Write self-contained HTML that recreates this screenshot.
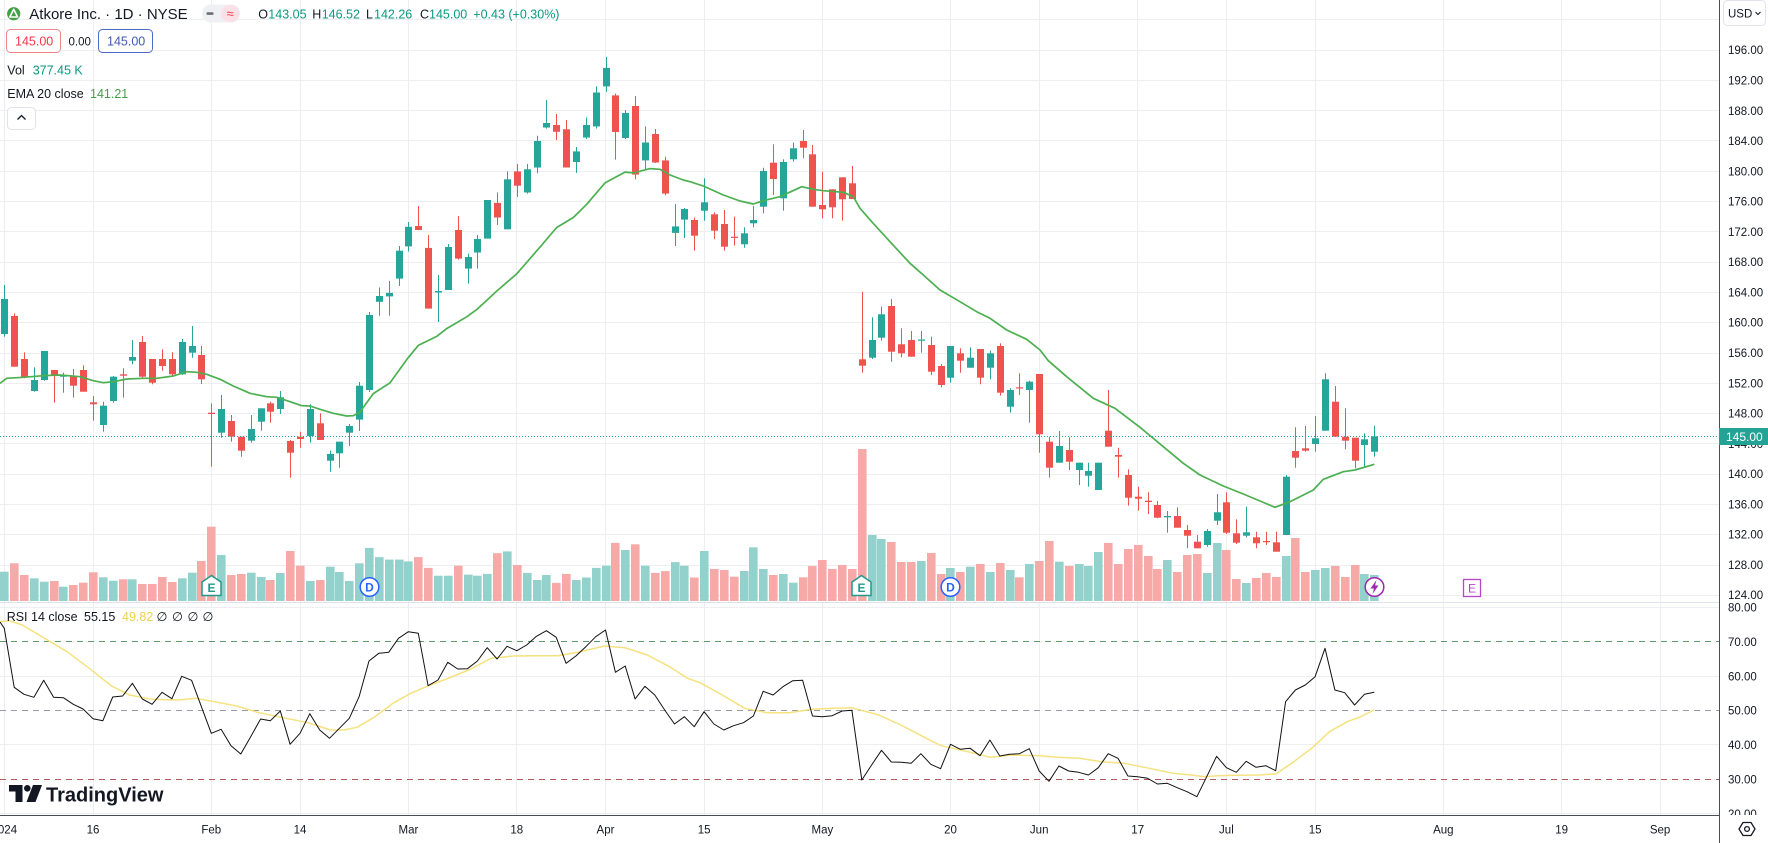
<!DOCTYPE html>
<html><head><meta charset="utf-8"><style>
html,body{margin:0;padding:0;background:#fff;}
body{width:1768px;height:843px;overflow:hidden;position:relative;font-family:"Liberation Sans",sans-serif;}
svg{position:absolute;left:0;top:0;}
</style></head><body>
<svg id="s" width="1768" height="843" viewBox="0 0 1768 843" xmlns="http://www.w3.org/2000/svg" font-family="Liberation Sans, DejaVu Sans, sans-serif">
<defs>
<clipPath id="cm"><rect x="0" y="0" width="1719" height="601"/></clipPath>
<clipPath id="cr"><rect x="0" y="603" width="1719" height="212"/></clipPath>
</defs>
<rect width="1768" height="843" fill="#fff"/>
<!-- grid -->
<g stroke="#eceef2" stroke-width="1">
<line x1="0" x2="1719" y1="19.5" y2="19.5"/><line x1="0" x2="1719" y1="50.5" y2="50.5"/><line x1="0" x2="1719" y1="80.5" y2="80.5"/><line x1="0" x2="1719" y1="110.5" y2="110.5"/><line x1="0" x2="1719" y1="140.5" y2="140.5"/><line x1="0" x2="1719" y1="171.5" y2="171.5"/><line x1="0" x2="1719" y1="201.5" y2="201.5"/><line x1="0" x2="1719" y1="231.5" y2="231.5"/><line x1="0" x2="1719" y1="262.5" y2="262.5"/><line x1="0" x2="1719" y1="292.5" y2="292.5"/><line x1="0" x2="1719" y1="322.5" y2="322.5"/><line x1="0" x2="1719" y1="353.5" y2="353.5"/><line x1="0" x2="1719" y1="383.5" y2="383.5"/><line x1="0" x2="1719" y1="413.5" y2="413.5"/><line x1="0" x2="1719" y1="443.5" y2="443.5"/><line x1="0" x2="1719" y1="474.5" y2="474.5"/><line x1="0" x2="1719" y1="504.5" y2="504.5"/><line x1="0" x2="1719" y1="534.5" y2="534.5"/><line x1="0" x2="1719" y1="565.5" y2="565.5"/><line x1="0" x2="1719" y1="595.5" y2="595.5"/>
<line x1="0" x2="1719" y1="607.5" y2="607.5"/><line x1="0" x2="1719" y1="676.5" y2="676.5"/><line x1="0" x2="1719" y1="744.5" y2="744.5"/><line x1="0" x2="1719" y1="813.5" y2="813.5"/>
<line y1="0" y2="815" x1="4.5" x2="4.5"/><line y1="0" y2="815" x1="93.5" x2="93.5"/><line y1="0" y2="815" x1="211.5" x2="211.5"/><line y1="0" y2="815" x1="300.5" x2="300.5"/><line y1="0" y2="815" x1="408.5" x2="408.5"/><line y1="0" y2="815" x1="516.5" x2="516.5"/><line y1="0" y2="815" x1="605.5" x2="605.5"/><line y1="0" y2="815" x1="704.5" x2="704.5"/><line y1="0" y2="815" x1="822.5" x2="822.5"/><line y1="0" y2="815" x1="950.5" x2="950.5"/><line y1="0" y2="815" x1="1039.5" x2="1039.5"/><line y1="0" y2="815" x1="1137.5" x2="1137.5"/><line y1="0" y2="815" x1="1226.5" x2="1226.5"/><line y1="0" y2="815" x1="1315.5" x2="1315.5"/><line y1="0" y2="815" x1="1443.5" x2="1443.5"/><line y1="0" y2="815" x1="1561.5" x2="1561.5"/><line y1="0" y2="815" x1="1660.5" x2="1660.5"/>
</g>
<line x1="0" x2="1719" y1="602.5" y2="602.5" stroke="#e0e3eb"/>
<!-- RSI bands -->
<g stroke-width="1" stroke-dasharray="6 5">
<line x1="0" x2="1719" y1="641.5" y2="641.5" stroke="#5f9a6a"/>
<line x1="0" x2="1719" y1="710.5" y2="710.5" stroke="#9a9ca5"/>
<line x1="0" x2="1719" y1="779.5" y2="779.5" stroke="#b35a5a"/>
</g>
<g id="vol" clip-path="url(#cm)"></g>
<g id="cdl" clip-path="url(#cm)"></g>
<g id="ema" clip-path="url(#cm)"></g>
<line x1="0" x2="1719" y1="436.5" y2="436.5" stroke="#26a69a" stroke-width="1" stroke-dasharray="1 2"/>
<g id="rsi" clip-path="url(#cr)"></g>
<!-- markers -->
<g font-size="12" font-weight="bold" text-anchor="middle">
<path d="M211.5,575.5 L221,582 L221,595.5 L202,595.5 L202,582 Z" fill="#fff" stroke="#22978a" stroke-width="1.5"/>
<text x="211.5" y="592" fill="#22978a">E</text>
<path d="M861.5,575.5 L871,582 L871,595.5 L852,595.5 L852,582 Z" fill="#fff" stroke="#22978a" stroke-width="1.5"/>
<text x="861.5" y="592" fill="#22978a">E</text>
<circle cx="369.5" cy="587" r="9.3" fill="#fff" stroke="#2962ff" stroke-width="1.5"/>
<text x="369.5" y="591.5" fill="#2962ff">D</text>
<circle cx="950.5" cy="587" r="9.3" fill="#fff" stroke="#2962ff" stroke-width="1.5"/>
<text x="950.5" y="591.5" fill="#2962ff">D</text>
<circle cx="1374.5" cy="587" r="9.3" fill="#fff" stroke="#9c27b0" stroke-width="1.5"/>
<path d="M1376.5,580 L1370.5,588.5 L1374,588.5 L1372.5,594 L1378.5,585.5 L1375,585.5 Z" fill="#9c27b0"/>
<rect x="1463.5" y="579.5" width="17" height="17" fill="#fff" stroke="#bb44cc" stroke-width="1.3"/>
<text x="1472" y="592.5" fill="#bb44cc" font-weight="normal">E</text>
</g>
<!-- axes -->
<line x1="1719.5" x2="1719.5" y1="0" y2="843" stroke="#4a4d57" stroke-width="1"/>
<line x1="0" x2="1719" y1="815.5" y2="815.5" stroke="#4a4d57" stroke-width="1"/>
<g font-size="11.5" fill="#131722">
<text x="1728" y="54.2">196.00</text><text x="1728" y="84.5">192.00</text><text x="1728" y="114.8">188.00</text><text x="1728" y="145">184.00</text><text x="1728" y="175.3">180.00</text><text x="1728" y="205.6">176.00</text><text x="1728" y="235.9">172.00</text><text x="1728" y="266.2">168.00</text><text x="1728" y="296.4">164.00</text><text x="1728" y="326.7">160.00</text><text x="1728" y="357">156.00</text><text x="1728" y="387.3">152.00</text><text x="1728" y="417.6">148.00</text><text x="1728" y="447.8">144.00</text><text x="1728" y="478.1">140.00</text><text x="1728" y="508.4">136.00</text><text x="1728" y="538.7">132.00</text><text x="1728" y="569">128.00</text><text x="1728" y="599.2">124.00</text>
<text x="1728" y="611.5">80.00</text><text x="1728" y="645.9">70.00</text><text x="1728" y="680.3">60.00</text><text x="1728" y="714.7">50.00</text><text x="1728" y="749.1">40.00</text><text x="1728" y="783.5">30.00</text>
</g>
<svg x="1720" y="805" width="48" height="10"><text x="8" y="12.9" font-size="11.5" fill="#131722">20.00</text></svg>
<rect x="1719" y="428" width="49" height="17" fill="#22a396"/>
<text x="1726" y="440.8" font-size="12" fill="#fff">145.00</text>
<rect x="1723.5" y="0.5" width="42" height="25" rx="4" fill="#fff" stroke="#e0e3eb"/>
<text x="1728" y="17.5" font-size="11.5" fill="#131722">USD</text>
<path d="M1755.5,12 L1758,14.5 L1760.5,12" fill="none" stroke="#131722" stroke-width="1"/>
<g font-size="11.5" fill="#131722" text-anchor="middle">
<text x="4.3" y="833.5">2024</text><text x="93" y="833.5">16</text><text x="211.3" y="833.5">Feb</text><text x="300" y="833.5">14</text><text x="408.4" y="833.5">Mar</text><text x="516.8" y="833.5">18</text><text x="605.5" y="833.5">Apr</text><text x="704.1" y="833.5">15</text><text x="822.4" y="833.5">May</text><text x="950.5" y="833.5">20</text><text x="1039.2" y="833.5">Jun</text><text x="1137.7" y="833.5">17</text><text x="1226.4" y="833.5">Jul</text><text x="1315.1" y="833.5">15</text><text x="1443.3" y="833.5">Aug</text><text x="1561.6" y="833.5">19</text><text x="1660.1" y="833.5">Sep</text>
</g>
<path d="M1743,822.5 L1751,822.5 L1755,829 L1751,835.5 L1743,835.5 L1739,829 Z" fill="none" stroke="#131722" stroke-width="1.3"/>
<circle cx="1747" cy="829" r="2.4" fill="none" stroke="#131722" stroke-width="1.3"/>
<!-- legend -->
<circle cx="13.7" cy="13.7" r="6.6" fill="#43a047"/>
<path d="M13.7,9.3 L17.6,17 L9.8,17 Z" fill="none" stroke="#fff" stroke-width="1.6" stroke-linejoin="round"/>
<text x="29.3" y="19" font-size="15" fill="#131722">Atkore Inc. · 1D · NYSE</text>
<rect x="202" y="4.5" width="38" height="18" rx="9" fill="#eef0f4"/>
<rect x="221" y="5" width="18.5" height="17" rx="8.5" fill="#fbe1e6"/>
<rect x="206.5" y="12.3" width="7" height="2.6" rx="1" fill="#6a6d78"/>
<text x="230.2" y="18" font-size="13" fill="#f23645" text-anchor="middle">≈</text>
<g font-size="12.5">
<text x="258.3" y="18.3" fill="#131722">O<tspan x="268.3" fill="#089981">143.05</tspan></text>
<text x="312.3" y="18.3" fill="#131722">H<tspan x="321.7" fill="#089981">146.52</tspan></text>
<text x="366" y="18.3" fill="#131722">L<tspan x="374" fill="#089981">142.26</tspan></text>
<text x="420" y="18.3" fill="#131722">C<tspan x="429" fill="#089981">145.00</tspan></text>
<text x="473.3" y="18.3" fill="#089981">+0.43 (+0.30%)</text>
<rect x="6.5" y="29.5" width="54" height="23" rx="4" fill="#fff" stroke="#f0868c"/>
<text x="15" y="45.5" fill="#f23645">145.00</text>
<text x="68.5" y="45.5" fill="#131722" font-size="11.5">0.00</text>
<rect x="98.5" y="29.5" width="54" height="23" rx="4" fill="#fff" stroke="#4c6bc9"/>
<text x="107" y="45.5" fill="#3f5bb5">145.00</text>
<text x="7.3" y="74.5" fill="#131722">Vol</text>
<text x="32.7" y="74.5" fill="#089981">377.45 K</text>
<text x="7.3" y="97.8" fill="#131722">EMA 20 close</text>
<text x="90" y="97.8" fill="#43a047">141.21</text>
<text x="6.7" y="621" fill="#131722">RSI 14 close</text>
<text x="84" y="621" fill="#131722">55.15</text>
<text x="122" y="621" fill="#f0cf4a">49.82</text>
<text x="156.5" y="621" fill="#131722">∅</text><text x="172" y="621" fill="#131722">∅</text><text x="187.5" y="621" fill="#131722">∅</text><text x="202.5" y="621" fill="#131722">∅</text>
</g>
<rect x="7.5" y="107.5" width="28" height="22" rx="4" fill="#fff" stroke="#e0e3eb"/>
<path d="M17.5,119.5 L21.5,115.5 L25.5,119.5" fill="none" stroke="#131722" stroke-width="1.3"/>
<!-- TradingView logo -->
<path d="M9,785 H22.5 V802 H15.5 V791.5 H9 Z" fill="#131722"/>
<circle cx="27.3" cy="788.3" r="3.3" fill="#131722"/>
<path d="M33,785 H42 L35.5,802 H26.5 Z" fill="#131722"/>
<text x="46" y="801.5" font-size="20" font-weight="bold" fill="#131722">TradingView</text>
</svg>
<script>
(function(){
var C=[[1,299,334,285,336.7],[0,316,366.7,313.3,366.7],[0,359,377.3,352.3,378.3],[1,380,391,367.3,391.7],[1,351,380,351,380.7],[0,370,375.7,370,402.7],[1,375,376.7,372.7,392.7],[0,375.7,385.7,369,397.7],[0,370,391.7,365.3,391.7],[0,402.3,404.3,396,420.7],
[1,405.7,425,401.7,431.7],[1,376.7,401,376,402.7],[0,374.3,375.7,368.3,397.7],[1,357,360.7,340,364.3],[0,342,376.7,336,378.3],[0,359,382.7,359,384.3],[0,359,366,349.3,370.7],[0,359,374.3,352.3,376.7],[1,342,374.3,339,375],[1,346,352.7,326,357.7],
[0,355,379.3,346,384],[0,412.7,414,403.3,466.7],[1,409,432.7,395,437.7],[0,421,436.7,415,441.7],[0,436.7,450.7,436.7,456.7],[1,429,440.7,415,442.7],[1,408.3,421.7,408.3,430.7],[0,403.3,411.7,401.7,422.7],[1,397.3,409,391,414],[0,441,452.7,440,477.7],
[0,436.7,439,431.7,447.7],[1,409,436,404.3,442.7],[0,423.3,440,413.3,440],[1,454,460.7,450.7,471.7],[1,441.7,453.3,441.7,467.7],[1,426,432.7,424,446],[1,385.7,419.6,382,431],[1,315,390,312,392],[1,296,301.8,287.5,315.7],[1,292.9,296.4,281,315.7],
[1,250.7,278.6,246,286],[1,226.8,246.4,222,251.4],[0,226,230,206,230],[0,247.9,308.6,235,308.6],[1,291,292.5,275,322],[1,247,290,244,290],[0,230,258.6,216,259.6],[1,257,268.6,253.6,283.6],[1,239,252.5,235,268.6],[1,200,238.6,200,238.6],
[0,202.9,217.5,192.5,225],[1,179.3,229.3,171.4,229.3],[0,171.4,185.7,164,197],[1,169.3,192.5,164,193.6],[1,141,167.5,135.7,173.2],[1,123,127.5,100,128.6],[0,125,131.8,114,140],[0,129.3,167.5,120,167.5],[1,151.4,162,147,172.9],[1,125,137.5,117.5,139],
[1,92.5,126.4,86.4,128.6],[1,67.9,86.4,57,91.8],[0,95.4,132,93.6,159.6],[1,113,138,110,139],[0,106,174.6,96,179.3],[1,142.5,160.4,126.4,169.3],[0,134,162.5,129,163],[0,160.4,193.6,156.8,195.4],[1,226.4,232.9,204,246],[1,209,219.6,208,238],
[0,220,235.7,217.5,250.7],[1,202.3,210.7,178.3,220.7],[0,214.3,230.7,212.3,239],[0,224,246.7,210,250.7],[0,236.7,237.7,216.7,245.7],[1,233.3,244.3,227.3,247.7],[1,220,223.3,206,227.3],[1,171,206.7,167.7,213.3],[0,162.7,179,144.3,195],[1,162,198.3,159.3,210.7],
[1,148.3,159.3,142.7,161.7],[0,141,147.7,130,158.3],[0,154.3,206.7,145,206.7],[0,205,209.3,171.7,218.3],[0,189.3,207.3,189.3,218.3],[0,177.3,199.3,177.3,220.7],[0,183.3,199,166,199],[0,359.3,365.7,291.7,372.7],[1,340,357.7,317.3,359],[1,314.3,337.7,306.7,340.7],
[0,306,351.7,299,361.7],[0,344.3,353.3,328.3,357.3],[0,340,356.7,331,356.7],[1,339.5,340.5,331,352.7],[0,345,371.7,336.7,375],[0,366,385,364,387.3],[1,346,377.7,346,382.7],[0,353.3,360.7,348.3,372.7],[1,357.7,367.7,347.3,367.7],[0,349,377.7,349,384.3],
[1,353.3,367.7,350.7,379.3],[0,346,392.7,343.3,395.7],[1,390,406.7,388.3,412.7],[0,387.3,388.3,373.3,395],[1,381.7,390,380.7,422.7],[0,374,434.3,374,452.7],[0,441.7,467.7,436.7,477.7],[1,446,462.7,431,462.7],[0,450,461.7,437.3,470],[1,462.7,470,462.7,485],
[1,471,475.7,462.7,486.7],[1,462.7,490,462.7,490],[0,430.7,446.7,390,446.7],[0,455,456.7,447.7,477.7],[0,475,497.7,469.3,505.7],[0,496.7,498.7,486.7,510.7],[0,500.7,502,492.3,514],[0,505,517.7,501,518.3],[1,516,517.3,511,532.7],[0,516,527.7,507.3,527.7],
[0,530,535.7,525,548.3],[0,541.7,548.3,535,548.3],[1,531,545,529,546.7],[1,512.3,520.7,494,525],[0,502.3,532.7,492.3,534],[0,533.3,542.7,519.3,544],[1,532.3,535.7,506.7,537.3],[0,537.3,543.3,531.7,548.3],[0,541,542,531.7,545],[0,542.3,551.7,531.7,551.7],
[1,476.7,535,475,535],[0,451,457.7,427.3,467.7],[0,448.3,450.7,426,451.7],[1,438.3,444,416,451.7],[1,379.3,430.7,373.3,430.7],[0,401.7,436.7,386,436.7],[0,436.7,440.7,408.3,449.3],[0,437.7,460.7,437.7,468.3],[1,439.3,445,433.3,466.7],[1,436.3,451.7,425.7,456.7]];
var V=[571.7,563.3,575,578.3,581.7,581,586.7,585,582.7,572.3,577.3,580.7,579.3,579.3,584,584,577,582,578.3,572.7,561,526.7,555,575,574,572.7,577,580,573,551,565.7,581,580,566.7,572,581,563.3,
547.9,557.1,559.6,559.6,561.4,557.1,567.9,575.7,575.7,565.7,574.6,575.7,573.9,553.2,551.4,565,572.9,580,575,582.9,573.9,580,577.5,567.9,565.7,542.9,550,544.3,565.7,572.9,571.1,562.1,565.7,577.5,
551,569,570,576.7,571,547.3,569,575,574,582.7,577.3,566,560,569,565,569,449,535,539,542,562,562,561,553,574,568,572,566.7,564,572,563,570,577.3,564,561,541,
561.7,566,564,566,552,543,564,549,545,556,569,560,572,555,554,573,543,550,579,583,578,573,577,556,538,572,570,568,566,577,565,574,575];
var R=[85,262,283,292,241,292,293,313,327,356,362,291,288,250,297,313,277,296,229,241,320,400,388,437,462,410,357,362,333,433,400,341,390,415,385,355,290,183,160,157,115,95,100,257,240,187,207,206,183,143,177,139,152,135,109,92,112,190,168,140,110,90,217,198,297,259,285,330,372,350,380,
335,372,390,377,368,348,274,285,260,242,241,348,350,347,333,331,540,495,451,486,487,490,461,493,506,433,448,445,467,420,468,463,461,446,513,544,498,513,517,525,503,461,475,528,530,535,552,550,563,575,590,530,469,503,517,484,502,497,512,305,270,255,230,145,270,278,315,283,277];
var E=[[0,383.3],[6.7,378.3],[23.3,377.3],[43.3,375.7],[60,375],[80,376.7],[93.3,380.7],[103.3,382.7],[113.3,381.7],[126.7,379],[143.3,378.3],[156.7,378.3],[173.3,376],[186.7,371.7],[196.7,372.3],[206.7,374.3],[220,379.3],[233.3,386],[250,393.3],[266.7,396.7],[276.7,397.3],[290,401.7],[301.7,405.7],[310,406],[320,409.3],[333.3,413.3],[346.7,416],[353.3,415.7],[360,412],[373.3,393.6],[390,382.9],[406.7,359.6],[418.3,345.4],[436.7,336.4],[446.7,328.6],[466.7,316.8],[476.7,309.6],[496.7,291.1],[516.7,273.9],[540,247.1],[556.7,227.5],[573.3,217.5],[586.7,204.3],[605,182.9],[625,172.1],[633.3,172.9],[650,168.6],[660,169.3],[670,175],[683.3,180],[690,181.7],[703.3,186],[723.3,195],[740,201],[753.3,204],[763.3,200.7],[780,196.7],[801.7,186.7],[813.3,189.3],[823.3,190.7],[843.3,192.3],[853.3,196.7],[860,208.3],[871.7,221.7],[890,241.7],[910,263.3],[923.3,275],[940,290],[960,301.7],[976.7,311.7],[990,318.3],[1006.7,330],[1026.7,339.3],[1040,350],[1048.3,360.7],[1066.7,376.7],[1093.3,398.3],[1115,408.3],[1140,427.3],[1163.3,446.7],[1183.3,463.3],[1200,475],[1223.3,486],[1243.3,494],[1260,501],[1275,507.3],[1290,501.7],[1313.3,490],[1323.3,479.3],[1343.3,471.7],[1355,470],[1374.3,464.3]];
var M=[[0,621.7],[8.9,620.7],[22.3,625],[44.6,638.3],[67,651.7],[89.3,668.3],[111.6,686],[129.5,695],[151.8,699.3],[178.6,700],[196.4,698.3],[214.3,701.7],[236.6,706],[258.9,712.7],[281.3,717.3],[308,722.7],[330.4,730],[343.8,730],[357.1,727.3],[375,716.7],[392.9,703.3],[410.7,693.3],[428.6,685.7],[446.4,679],[468.8,670],[491.1,658.3],[513.4,656],[535.7,655.7],[558,655.7],[580.4,651.7],[604.9,646],[625,647.7],[647.3,655],[669.6,666.7],[687.5,678.3],[700,682.7],[722.3,695],[744.6,708.3],[767,712.7],[789.3,712.7],[811.6,709.3],[833.9,708.3],[851.8,707.7],[878.6,715],[900.9,725],[923.2,736.7],[941.1,745.7],[967.9,751.7],[990.2,757.3],[1012.5,755],[1039.3,755.7],[1057.1,757.3],[1079.5,758.3],[1101.8,761.7],[1124.1,763.3],[1146.4,767.7],[1173.2,773.3],[1191.1,775],[1204.5,776.7],[1217.9,775.7],[1235.7,775.3],[1258,775],[1275.9,774],[1293.8,761.7],[1311.6,748.3],[1329.5,731.7],[1347.3,721.7],[1360.7,716.7],[1374.1,710]];
function X(i){return 4.3+9.856*i;}
var vs='',cs='';
for(var i=0;i<C.length;i++){
 var c=C[i],xi=Math.round(X(i));
 var col=c[0]?'#26a69a':'#ef5350', vc=c[0]?'#93d2cc':'#f7a9a8';
 vs+='<rect x="'+(xi-4)+'" y="'+V[i]+'" width="8.6" height="'+(601-V[i])+'" fill="'+vc+'"/>';
 cs+='<rect x="'+xi+'" y="'+c[3]+'" width="1" height="'+Math.max(c[4]-c[3],1)+'" fill="'+col+'"/>';
 cs+='<rect x="'+(xi-3)+'" y="'+c[1]+'" width="7" height="'+Math.max(c[2]-c[1],1.2)+'" fill="'+col+'"/>';
}
document.getElementById('vol').innerHTML=vs;
document.getElementById('cdl').innerHTML=cs;
var ep=E.map(function(p){return p[0]+','+p[1];}).join(' ');
document.getElementById('ema').innerHTML='<polyline points="'+ep+'" fill="none" stroke="#4caf50" stroke-width="1.7" stroke-linejoin="round"/>';
var rp=['0,622'];for(var j=0;j<R.length;j++){rp.push(X(j).toFixed(1)+','+(600+R[j]/3).toFixed(1));}
var mp=M.map(function(p){return p[0]+','+p[1];}).join(' ');
document.getElementById('rsi').innerHTML='<polyline points="'+mp+'" fill="none" stroke="#f5e27e" stroke-width="1.5" stroke-linejoin="round"/>'+
 '<polyline points="'+rp.join(' ')+'" fill="none" stroke="#111" stroke-width="1" stroke-linejoin="round"/>';
})();
</script>
</body></html>
